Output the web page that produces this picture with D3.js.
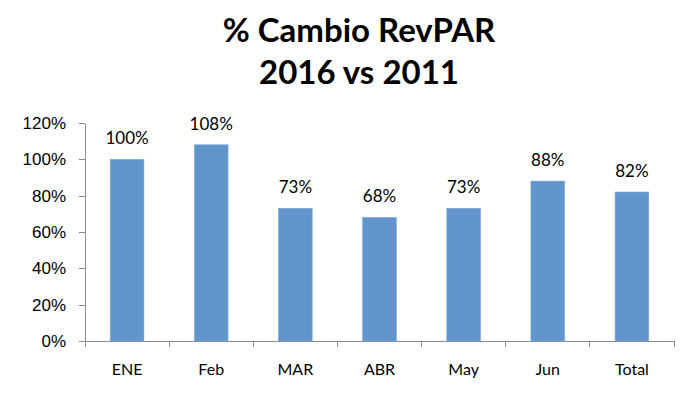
<!DOCTYPE html>
<meta charset="utf-8">
<style>
body { margin: 0; background: #fff; }
svg { font-family: Lato, "Noto Sans", sans-serif; }
.axis path, .axis line { stroke: #8c8c8c; shape-rendering: crispEdges; }
.axis text { fill: #000; }
.y.axis text { font-size: 17px; }
.x.axis text { font-size: 16px; }
.bar { fill: #6195cc; stroke: #7aa6d6; stroke-width: 0.6; }
.label { font-size: 17px; text-anchor: middle; }
.title { font-size: 33px; font-weight: bold; text-anchor: middle; }
</style>
<body>
<script src="https://cdn.jsdelivr.net/npm/d3@7"></script>
<script>

var categories = ["ENE", "Feb", "MAR", "ABR", "May", "Jun", "Total"];
var values = [1.00, 1.08, 0.73, 0.68, 0.73, 0.88, 0.82];
var yTicks = [0, 0.2, 0.4, 0.6, 0.8, 1.0, 1.2];
var titleLines = ["% Cambio RevPAR", "2016 vs 2011"];

var margin = {top: 123, right: 12, bottom: 56, left: 85},
    width = 686 - margin.left - margin.right,
    height = 397 - margin.top - margin.bottom;

var svg = d3.select("body").append("svg")
    .attr("width", 686)
    .attr("height", 397);

svg.selectAll(".title")
    .data(titleLines)
  .enter().append("text")
    .attr("class", "title")
    .attr("x", 359)
    .attr("y", function(d, i) { return 42 + i * 42; })
    .text(function(d) { return d; });

var g = svg.append("g")
    .attr("transform", "translate(" + margin.left + "," + margin.top + ")");

var x = d3.scaleBand()
    .domain(categories)
    .range([0, width])
    .paddingInner(0.6)
    .paddingOuter(0.3);

var y = d3.scaleLinear()
    .domain([0, 1.2])
    .range([height, 0]);

// y axis
g.append("g")
    .attr("class", "y axis")
    .call(d3.axisLeft(y)
        .tickValues(yTicks)
        .tickFormat(d3.format(".0%"))
        .tickSize(6)
        .tickPadding(13)
        .tickSizeOuter(0));

// x axis: line with ticks between categories
var xa = g.append("g")
    .attr("class", "x axis")
    .attr("transform", "translate(0," + height + ")");

xa.append("line")
    .attr("x1", 0).attr("x2", width);

xa.selectAll(".tick")
    .data(d3.range(categories.length + 1))
  .enter().append("line")
    .attr("x1", function(i) { return i * x.step(); })
    .attr("x2", function(i) { return i * x.step(); })
    .attr("y1", 0).attr("y2", 6);

xa.selectAll("text")
    .data(categories)
  .enter().append("text")
    .attr("x", function(d) { return x(d) + x.bandwidth() / 2; })
    .attr("y", 34)
    .attr("text-anchor", "middle")
    .text(function(d) { return d; });

g.selectAll(".bar")
    .data(values)
  .enter().append("rect")
    .attr("class", "bar")
    .attr("x", function(d, i) { return x(categories[i]); })
    .attr("y", function(d) { return y(d); })
    .attr("width", x.bandwidth())
    .attr("height", function(d) { return height - y(d); });

g.selectAll(".label")
    .data(values)
  .enter().append("text")
    .attr("class", "label")
    .attr("x", function(d, i) { return x(categories[i]) + x.bandwidth() / 2; })
    .attr("y", function(d) { return y(d) - 15; })
    .text(function(d) { return d3.format(".0%")(d); });

</script>
